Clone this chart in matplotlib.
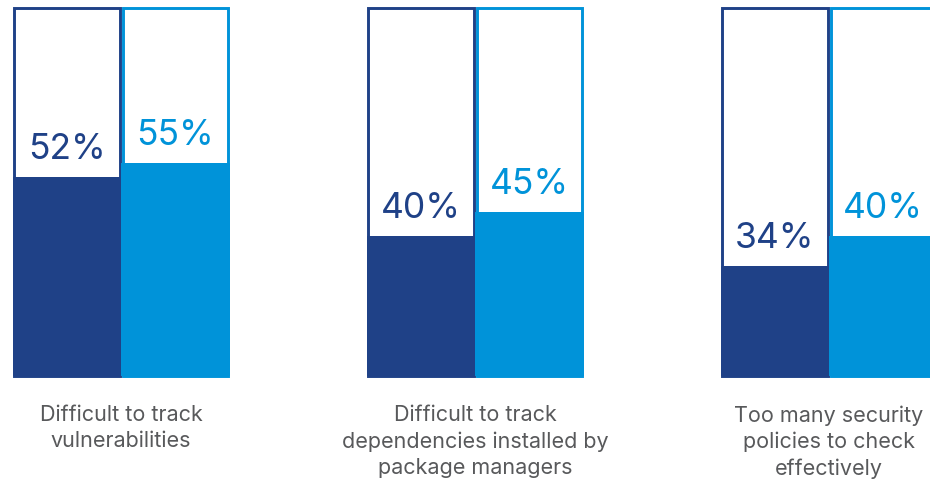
import matplotlib
matplotlib.use('Agg')
import matplotlib.pyplot as plt
import numpy as np

# data
categories = [
    'Difficult to track\nvulnerabilities',
    'Difficult to track\ndependencies installed by\npackage managers',
    'Too many security\npolicies to check\neffectively',
]
series_a = [52, 40, 34]
series_b = [55, 45, 40]

# styles
DARK = '#1f4187'
LIGHT = '#0093d9'
GREY = '#58595b'
BAR_W = 0.3065
PX = 1 / 354  # one pixel in x data units
Y_LOW, Y_TOP = 11.5, 86.5

plt.rcParams['font.family'] = ['Inter', 'DejaVu Sans']

fig = plt.figure(figsize=(9.3, 4.8), dpi=100)
ax = fig.add_axes([0, (480 - 376) / 480, 1, 368 / 480])
ax.set_xlim(-0.342, 2.285)
ax.set_ylim(Y_LOW, Y_TOP)
ax.axis('off')

x = np.arange(len(categories))
xa = x - BAR_W / 2
xb = x + BAR_W / 2

# outline boxes up to the top (kept inside the bar width)
for xs, col in ((xa, DARK), (xb, LIGHT)):
    bars = ax.bar(xs, Y_TOP - Y_LOW, bottom=Y_LOW, width=BAR_W - 3 * PX,
                  facecolor='white', edgecolor=col, linewidth=2.1, zorder=1)
    for b in bars:
        b.set_clip_on(False)

# filled parts
ax.bar(xa, series_a, width=BAR_W, color=DARK, linewidth=0, zorder=2)
ax.bar(xb, series_b, width=BAR_W, color=LIGHT, linewidth=0, zorder=2)

# value labels
for xs, vals, col in ((xa, series_a, DARK), (xb, series_b, LIGHT)):
    for xi, v in zip(xs, vals):
        ax.annotate(f'{v}%', xy=(xi, v), xytext=(0, 13), textcoords='offset points',
                    ha='center', va='baseline', fontsize=25.5, color=col, zorder=4)

# category labels
for xi, lab in zip(x, categories):
    ax.annotate(lab, xy=(xi, 0), xycoords=ax.get_xaxis_transform(),
                xytext=(0, -21), textcoords='offset points',
                ha='center', va='top', fontsize=15.5, color=GREY,
                linespacing=1.38)

fig.savefig('out.png', dpi=100, facecolor='white')
